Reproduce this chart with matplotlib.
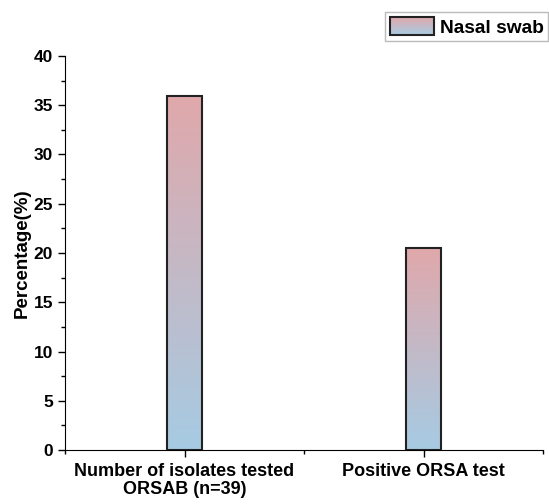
import matplotlib
matplotlib.use('Agg')
import matplotlib.pyplot as plt
import numpy as np
from matplotlib.colors import LinearSegmentedColormap
from matplotlib.patches import Rectangle
from matplotlib.legend_handler import HandlerBase
from matplotlib.ticker import MultipleLocator, FixedLocator

plt.rcParams['font.family'] = 'Liberation Sans'
plt.rcParams['font.weight'] = 'bold'

categories = ['Number of isolates tested\nORSAB (n=39)', 'Positive ORSA test']
values = [35.9, 20.5]
series_name = 'Nasal swab'

cmap = LinearSegmentedColormap.from_list('grad', ['#a6cbe3', '#e0a8ab'])


class GradientHandler(HandlerBase):
    # legend swatch drawn as stacked stripes to fake the gradient
    def create_artists(self, legend, orig_handle, xdescent, ydescent,
                       width, height, fontsize, trans):
        arts = []
        n = 30
        for i in range(n):
            r = Rectangle((-xdescent, -ydescent + height * i / n), width, height / n + 0.2,
                          facecolor=cmap(i / (n - 1)), edgecolor='none', transform=trans)
            arts.append(r)
        arts.append(Rectangle((-xdescent, -ydescent), width, height, facecolor='none',
                              edgecolor='#222222', linewidth=1.5, transform=trans))
        return arts


fig = plt.figure(figsize=(5.49, 5.04), dpi=100)
ax = fig.add_axes([65 / 549, 1 - 450 / 504, 478 / 549, 394 / 504])

x = np.arange(1, len(values) + 1)
width = 0.15
grad = np.linspace(0, 1, 256).reshape(-1, 1)
for xi, v in zip(x, values):
    rect = Rectangle((xi - width / 2, 0), width, v, facecolor='none',
                     edgecolor='#222222', linewidth=1.5, zorder=3)
    ax.add_patch(rect)
    im = ax.imshow(grad, cmap=cmap, origin='lower', aspect='auto',
                   extent=[xi - width / 2, xi + width / 2, 0, v], zorder=2)
    im.set_clip_path(rect)

ax.set_xlim(0.5, 2.5)
ax.set_ylim(0, 40)
ax.set_xticks(x)
ax.set_xticklabels(categories, fontsize=13, fontweight='bold', linespacing=1.1)
ax.xaxis.set_minor_locator(FixedLocator([0.5, 1.5, 2.5]))
ax.yaxis.set_major_locator(MultipleLocator(5))
ax.yaxis.set_minor_locator(MultipleLocator(2.5))
ax.tick_params(axis='both', which='major', length=5, width=1)
ax.tick_params(axis='y', which='major', labelsize=12.5)
ax.tick_params(axis='x', which='major', pad=4)
ax.tick_params(axis='both', which='minor', length=3, width=1)
for lbl in ax.get_yticklabels():
    lbl.set_fontweight('bold')
ax.set_ylabel('Percentage(%)', fontsize=13.5, fontweight='bold', labelpad=2)
ax.spines['top'].set_visible(False)
ax.spines['right'].set_visible(False)

proxy = Rectangle((0, 0), 1, 1)
leg = fig.legend([proxy], [series_name], handler_map={Rectangle: GradientHandler()},
                 loc='upper left', bbox_to_anchor=(385 / 549, 1 - 12 / 504),
                 fancybox=False, edgecolor='#bbbbbb', framealpha=1,
                 prop={'size': 13.8, 'weight': 'bold'},
                 handlelength=2.3, handleheight=1.1, borderpad=0.25, handletextpad=0.3,
                 borderaxespad=0)
leg.get_frame().set_linewidth(1.0)

fig.savefig('out.png', dpi=100)
